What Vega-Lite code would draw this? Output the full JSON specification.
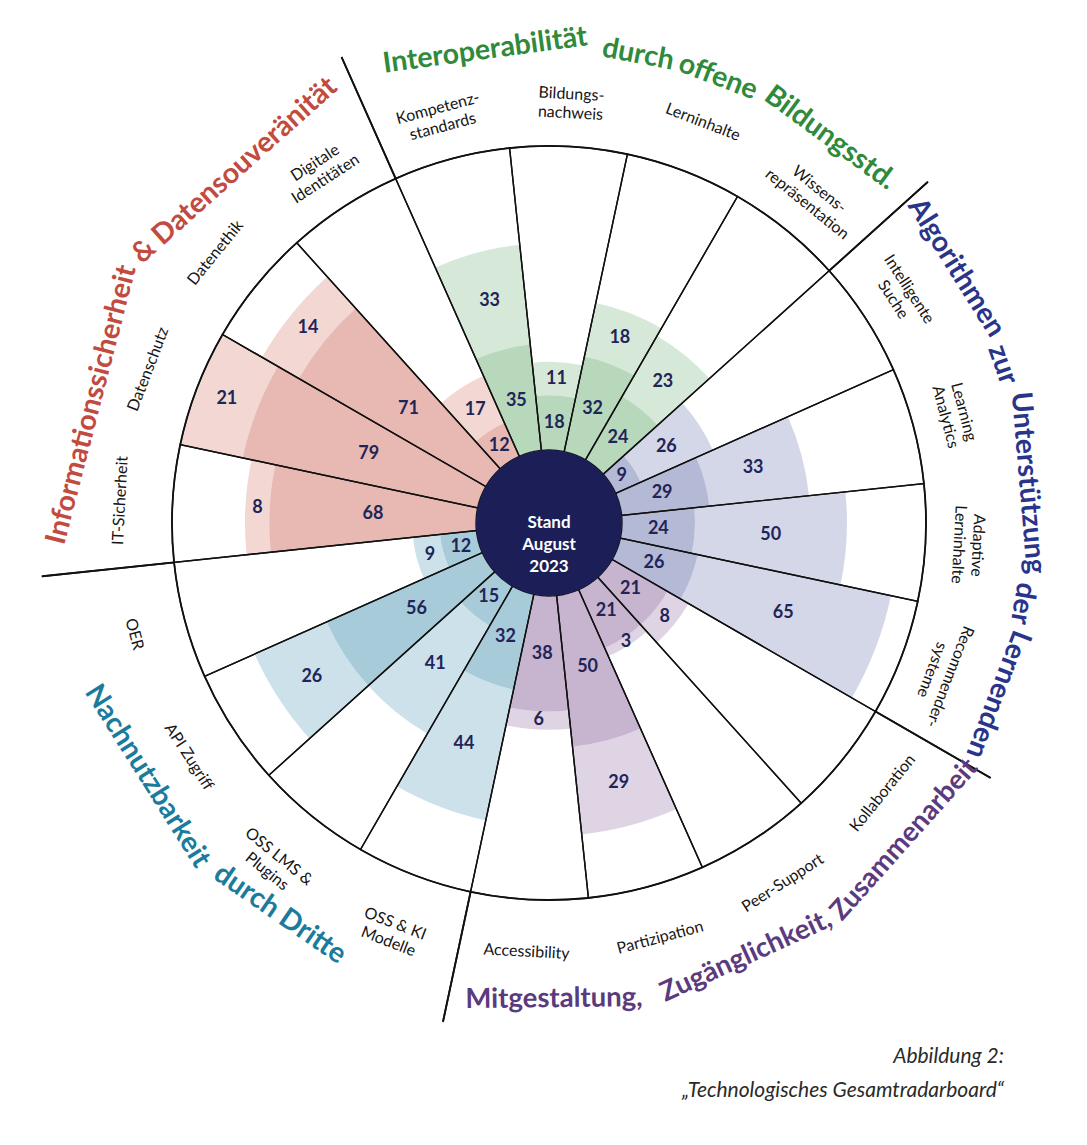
{
  "$schema": "https://vega.github.io/schema/vega-lite/v6.json",
  "width": 1076,
  "height": 1046,
  "autosize": "none",
  "padding": {"left": 11, "top": 0, "right": 0, "bottom": 99},
  "background": "white",
  "config": {"view": {"stroke": null}},
  "title": {
    "text": "Abbildung 2:",
    "subtitle": "„Technologisches Gesamtradarboard“",
    "orient": "bottom",
    "anchor": "end",
    "frame": "group",
    "offset": 0,
    "dx": -83,
    "font": "Lato",
    "fontSize": 21,
    "fontStyle": "italic",
    "fontWeight": "normal",
    "color": "#2a2a2a",
    "subtitleFont": "Lato",
    "subtitleFontSize": 21,
    "subtitleFontStyle": "italic",
    "subtitleColor": "#2a2a2a",
    "subtitlePadding": 13
  },
  "data": {
    "values": [
      {"i": 0, "name": "Kompetenz-\nstandards", "cat": "Interoperabilität", "dark": 35, "light": 33},
      {"i": 1, "name": "Bildungs-\nnachweis", "cat": "Interoperabilität", "dark": 18, "light": 11},
      {"i": 2, "name": "Lerninhalte", "cat": "Interoperabilität", "dark": 32, "light": 18},
      {"i": 3, "name": "Wissens-\nrepräsentation", "cat": "Interoperabilität", "dark": 24, "light": 23},
      {"i": 4, "name": "Intelligente\nSuche", "cat": "Algorithmen", "dark": 9, "light": 26},
      {"i": 5, "name": "Learning\nAnalytics", "cat": "Algorithmen", "dark": 29, "light": 33},
      {"i": 6, "name": "Adaptive\nLerninhalte", "cat": "Algorithmen", "dark": 24, "light": 50},
      {"i": 7, "name": "Recommender-\nsysteme", "cat": "Algorithmen", "dark": 26, "light": 65},
      {"i": 8, "name": "Kollaboration", "cat": "Mitgestaltung", "dark": 21, "light": 8},
      {"i": 9, "name": "Peer-Support", "cat": "Mitgestaltung", "dark": 21, "light": 3},
      {"i": 10, "name": "Partizipation", "cat": "Mitgestaltung", "dark": 50, "light": 29},
      {"i": 11, "name": "Accessibility", "cat": "Mitgestaltung", "dark": 38, "light": 6},
      {"i": 12, "name": "OSS & KI\nModelle", "cat": "Nachnutzbarkeit", "dark": 32, "light": 44},
      {"i": 13, "name": "OSS LMS &\nPlugins", "cat": "Nachnutzbarkeit", "dark": 15, "light": 41},
      {"i": 14, "name": "API Zugriff", "cat": "Nachnutzbarkeit", "dark": 56, "light": 26},
      {"i": 15, "name": "OER", "cat": "Nachnutzbarkeit", "dark": 12, "light": 9},
      {"i": 16, "name": "IT-Sicherheit", "cat": "Informationssicherheit", "dark": 68, "light": 8},
      {"i": 17, "name": "Datenschutz", "cat": "Informationssicherheit", "dark": 79, "light": 21},
      {"i": 18, "name": "Datenethik", "cat": "Informationssicherheit", "dark": 71, "light": 14},
      {"i": 19, "name": "Digitale\nIdentitäten", "cat": "Informationssicherheit", "dark": 12, "light": 17}
    ]
  },
  "layer": [
    {
      "encoding": {
        "theta": {
          "field": "i",
          "type": "ordinal",
          "scale": {
            "type": "band",
            "domain": [0, 1, 2, 3, 4, 5, 6, 7, 8, 9, 10, 11, 12, 13, 14, 15, 16, 17, 18, 19],
            "range": [-0.418879, 5.864306],
            "paddingInner": 0,
            "paddingOuter": 0
          }
        }
      },
      "layer": [
        {
          "transform": [{"fold": ["dark", "light"], "as": ["band", "v"]}],
          "mark": {"type": "arc"},
          "encoding": {
            "radius": {
              "field": "v",
              "type": "quantitative",
              "stack": "zero",
              "scale": {"type": "linear", "domain": [0, 100], "range": [73, 377], "zero": false, "nice": false}
            },
            "color": {
              "field": "cat",
              "type": "nominal",
              "scale": {
                "domain": ["Interoperabilität", "Algorithmen", "Mitgestaltung", "Nachnutzbarkeit", "Informationssicherheit"],
                "range": ["#87be8c", "#828abb", "#a282af", "#6ca8c0", "#d98a7f"]
              },
              "legend": null
            },
            "opacity": {
              "field": "band",
              "type": "nominal",
              "scale": {"domain": ["dark", "light"], "range": [0.6, 0.34]},
              "legend": null
            },
            "order": {"field": "band", "sort": "ascending"}
          }
        },
        {
          "mark": {"type": "arc", "filled": false, "stroke": "#111111", "strokeWidth": 1.4},
          "encoding": {
            "radius": {"datum": 100, "scale": {"type": "linear", "domain": [0, 100], "range": [73, 377], "zero": false, "nice": false}}
          }
        },
        {
          "transform": [{"fold": ["dark", "light"], "as": ["band", "v"]}],
          "mark": {"type": "text", "font": "Lato", "fontWeight": "bold", "fontSize": 18, "color": "#1f2558", "baseline": "middle", "align": "center"},
          "encoding": {
            "radius": {
              "field": "v",
              "type": "quantitative",
              "stack": "zero",
              "scale": {"type": "linear", "domain": [0, 100], "range": [73, 377], "zero": false, "nice": false}
            },
            "detail": {"field": "band", "type": "nominal"},
            "order": {"field": "band", "sort": "ascending"},
            "text": {"field": "v", "type": "quantitative"}
          }
        },
        {
          "mark": {"type": "text", "font": "Lato", "fontSize": 16, "color": "#151515", "lineBreak": "\n", "lineHeight": 19, "baseline": "middle", "align": "center"},
          "encoding": {
            "radius": {"datum": 117.2, "scale": {"type": "linear", "domain": [0, 100], "range": [73, 377], "zero": false, "nice": false}},
            "text": {"field": "name", "type": "nominal"},
            "angle": {
              "field": "i",
              "type": "quantitative",
              "scale": {"domain": [0, 7, 8, 15, 16, 19], "range": [-15, 111, -51, 75, -87, -33], "zero": false, "nice": false},
              "legend": null
            }
          }
        }
      ]
    },
    {
      "data": {
        "values": [
          {"cat": "Interoperabilität"},
          {"cat": "Algorithmen"},
          {"cat": "Mitgestaltung"},
          {"cat": "Nachnutzbarkeit"},
          {"cat": "Informationssicherheit"}
        ]
      },
      "mark": {"type": "arc", "filled": false, "stroke": "#111111", "strokeWidth": 1.8, "strokeDash": [0, 641.5, 2000]},
      "encoding": {
        "theta": {
          "field": "cat",
          "type": "nominal",
          "scale": {
            "type": "band",
            "domain": ["Interoperabilität", "Algorithmen", "Mitgestaltung", "Nachnutzbarkeit", "Informationssicherheit"],
            "range": [-0.418879, 5.864306],
            "paddingInner": 0,
            "paddingOuter": 0
          }
        },
        "radius": {"datum": 143.8, "scale": {"type": "linear", "domain": [0, 100], "range": [73, 377], "zero": false, "nice": false}},
        "radius2": {"datum": 100}
      }
    },
    {
      "data": {"values": [{"label": "Stand\nAugust\n2023"}]},
      "layer": [
        {
          "mark": {"type": "arc", "color": "#1c1f57"},
          "encoding": {
            "radius": {"datum": 0, "scale": {"type": "linear", "domain": [0, 100], "range": [73, 377], "zero": false, "nice": false}},
            "radius2": {"value": 0}
          }
        },
        {
          "mark": {"type": "text", "font": "Lato", "fontWeight": "bold", "fontSize": 17, "color": "#ffffff", "lineBreak": "\n", "lineHeight": 22, "baseline": "middle", "align": "center"},
          "encoding": {"text": {"field": "label", "type": "nominal"}}
        }
      ]
    },
    {
      "data": {"values": [
        {"t": "Interoperabilität", "c": 8},
        {"t": "durch", "c": 20},
        {"t": "offene", "c": 26.5},
        {"t": "Bildungsstd.", "c": 36.5}
      ]},
      "mark": {"type": "text", "font": "Lato", "fontWeight": "bold", "fontSize": 28.5, "color": "#2f8a3b", "baseline": "middle", "align": "center"},
      "encoding": {
        "text": {"field": "t", "type": "nominal"},
        "theta": {"field": "c", "type": "quantitative", "scale": {"domain": [0, 42], "range": [-0.349066, 0.778417], "zero": false, "nice": false}},
        "radius": {"datum": 133, "scale": {"type": "linear", "domain": [0, 100], "range": [73, 377], "zero": false, "nice": false}},
        "angle": {"field": "c", "type": "quantitative", "scale": {"domain": [0, 42], "range": [-20, 44.6], "zero": false, "nice": false}, "legend": null}
      }
    },
    {
      "data": {"values": [
        {"t": "Algorithmen", "c": 5},
        {"t": "zur", "c": 13},
        {"t": "Unterstützung", "c": 22},
        {"t": "der", "c": 31},
        {"t": "Lernenden", "c": 38}
      ]},
      "mark": {"type": "text", "font": "Lato", "fontWeight": "bold", "fontSize": 28.4, "color": "#29358a", "baseline": "middle", "align": "center"},
      "encoding": {
        "text": {"field": "t", "type": "nominal"},
        "theta": {"field": "c", "type": "quantitative", "scale": {"domain": [0, 42], "range": [0.870919, 2.047271], "zero": false, "nice": false}},
        "radius": {"datum": 134.2, "scale": {"type": "linear", "domain": [0, 100], "range": [73, 377], "zero": false, "nice": false}},
        "angle": {"field": "c", "type": "quantitative", "scale": {"domain": [0, 42], "range": [49.9, 117.3], "zero": false, "nice": false}, "legend": null}
      }
    },
    {
      "data": {"values": [
        {"t": "Mitgestaltung,", "c": 6.5},
        {"t": "Zugänglichkeit,", "c": 22},
        {"t": "Zusammenarbeit", "c": 37.5}
      ]},
      "mark": {"type": "text", "font": "Lato", "fontWeight": "bold", "fontSize": 27.5, "color": "#5b3a7d", "baseline": "middle", "align": "center"},
      "encoding": {
        "text": {"field": "t", "type": "nominal"},
        "theta": {"field": "c", "type": "quantitative", "scale": {"domain": [0, 44], "range": [3.305605, 2.124066], "zero": false, "nice": false}},
        "radius": {"datum": 132.6, "scale": {"type": "linear", "domain": [0, 100], "range": [73, 377], "zero": false, "nice": false}},
        "angle": {"field": "c", "type": "quantitative", "scale": {"domain": [0, 44], "range": [9.4, -58.3], "zero": false, "nice": false}, "legend": null}
      }
    },
    {
      "data": {"values": [
        {"t": "Nachnutzbarkeit", "c": 7},
        {"t": "durch Dritte", "c": 21.5}
      ]},
      "mark": {"type": "text", "font": "Lato", "fontWeight": "bold", "fontSize": 28.4, "color": "#1b7b9c", "baseline": "middle", "align": "center"},
      "encoding": {
        "text": {"field": "t", "type": "nominal"},
        "theta": {"field": "c", "type": "quantitative", "scale": {"domain": [0, 27], "range": [4.34587, 3.590142], "zero": false, "nice": false}},
        "radius": {"datum": 132, "scale": {"type": "linear", "domain": [0, 100], "range": [73, 377], "zero": false, "nice": false}},
        "angle": {"field": "c", "type": "quantitative", "scale": {"domain": [0, 27], "range": [69, 25.7], "zero": false, "nice": false}, "legend": null}
      }
    },
    {
      "data": {"values": [
        {"t": "Informationssicherheit", "c": 10.5},
        {"t": "& Datensouveränität", "c": 32}
      ]},
      "mark": {"type": "text", "font": "Lato", "fontWeight": "bold", "fontSize": 28.5, "color": "#c24a3e", "baseline": "middle", "align": "center"},
      "encoding": {
        "text": {"field": "t", "type": "nominal"},
        "theta": {"field": "c", "type": "quantitative", "scale": {"domain": [0, 41], "range": [4.677482, 5.801474], "zero": false, "nice": false}},
        "radius": {"datum": 131.5, "scale": {"type": "linear", "domain": [0, 100], "range": [73, 377], "zero": false, "nice": false}},
        "angle": {"field": "c", "type": "quantitative", "scale": {"domain": [0, 41], "range": [-92, -27.6], "zero": false, "nice": false}, "legend": null}
      }
    }
  ],
  "resolve": {"scale": {"theta": "independent", "angle": "independent"}}
}
